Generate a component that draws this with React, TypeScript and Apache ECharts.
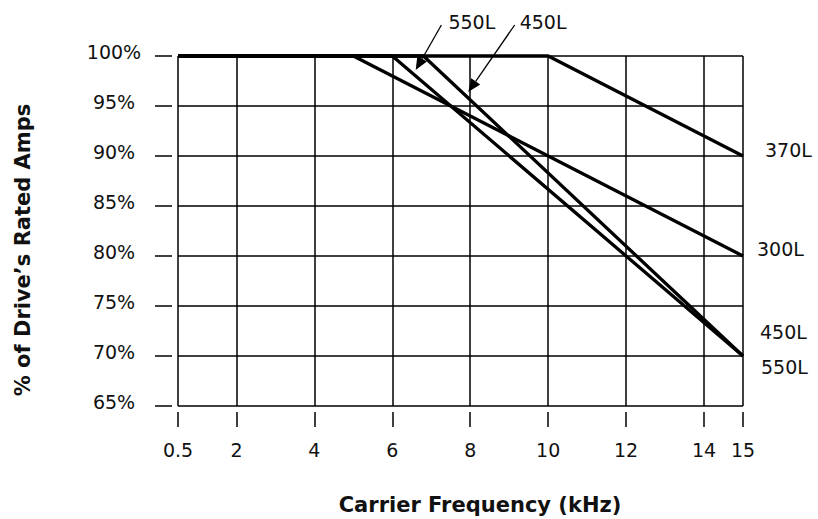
import React, { useEffect, useRef } from 'react';
import * as echarts from 'echarts';

// ---- data ----
const xTickValues = [0.5, 2, 4, 6, 8, 10, 12, 14, 15];
const seriesNames = ['370L', '300L', '450L', '550L'];
const freq370 = [0.5, 10, 15];
const amps370 = [100, 100, 90];
const freq300 = [0.5, 5, 15];
const amps300 = [100, 100, 80];
const freq450 = [0.5, 6.8, 15];
const amps450 = [100, 100, 70];
const freq550 = [0.5, 6, 15];
const amps550 = [100, 100, 70];

// callout arrows (data space): label, tail, tip
const calloutNames = ['550L', '450L'];
const calloutLabelAt = [[8.04, 103.4], [9.87, 103.4]];
const calloutTailAt = [[7.26, 103.1], [9.14, 103.1]];
const calloutTipAt = [[6.6, 98.6], [7.95, 96.4]];

const xTitle = 'Carrier Frequency (kHz)';
const yTitle = '% of Drive\u2019s Rated Amps';

// ---- styling (pixel offsets of end labels) ----
const endLabelOffset: Record<string, [number, number]> = {
  '370L': [22, -6.5],
  '300L': [14, -7],
  '450L': [17, -24.5],
  '550L': [18, 10.5],
};

const FONT = 'DejaVu Sans';
const TEXT = '#111';

export default function App() {
  const ref = useRef<HTMLDivElement>(null);
  useEffect(() => {
    document.body.style.margin = '0';
    const chart = echarts.init(ref.current!, null, { renderer: 'svg' });
    const sets = [
      [freq370, amps370],
      [freq300, amps300],
      [freq450, amps450],
      [freq550, amps550],
    ];
    const series = seriesNames.map((name, i) => ({
      type: 'line',
      name,
      data: sets[i][0].map((x, j) => [x, sets[i][1][j]]),
      showSymbol: false,
      symbol: 'none',
      clip: false,
      z: 5,
      lineStyle: { color: '#000', width: 3.3 },
    }));
    const gridLine = { color: '#000', width: 1.5 };
    chart.setOption({
      animation: false,
      grid: { left: 178, right: 75, top: 56, bottom: 113 },
      xAxis: {
        type: 'value',
        min: 0.5,
        max: 15,
        offset: 6,
        axisLine: { show: false },
        axisTick: { show: true, customValues: xTickValues, length: 15, lineStyle: gridLine },
        axisLabel: {
          customValues: xTickValues,
          margin: 28,
          fontFamily: FONT,
          fontSize: 19,
          color: TEXT,
          formatter: (v: number) => String(v),
        },
        splitLine: { show: true, lineStyle: gridLine },
      },
      yAxis: {
        type: 'value',
        min: 65,
        max: 100,
        interval: 5,
        offset: 6,
        axisLine: { show: false },
        axisTick: { show: true, length: 17, lineStyle: gridLine },
        axisLabel: {
          formatter: '{value}%',
          align: 'center',
          verticalAlign: 'bottom',
          lineHeight: 9,
          margin: 58,
          fontFamily: FONT,
          fontSize: 19,
          color: TEXT,
        },
        splitLine: { show: true, lineStyle: gridLine },
      },
      series,
    });

    const px = (p: number[]) => chart.convertToPixel({ gridIndex: 0 }, p) as number[];
    const graphics: any[] = [];
    // end labels
    seriesNames.forEach((name, i) => {
      const xs = sets[i][0];
      const ys = sets[i][1];
      const end = px([xs[xs.length - 1], ys[ys.length - 1]]);
      const off = endLabelOffset[name];
      graphics.push({
        type: 'text',
        x: end[0] + off[0],
        y: end[1] + off[1],
        style: { text: name, fontFamily: FONT, fontSize: 19, fill: TEXT, align: 'left', verticalAlign: 'middle' },
      });
    });
    // callouts
    calloutNames.forEach((name, i) => {
      const lab = px(calloutLabelAt[i]);
      const tail = px(calloutTailAt[i]);
      const tip = px(calloutTipAt[i]);
      const dx = tip[0] - tail[0];
      const dy = tip[1] - tail[1];
      const len = Math.hypot(dx, dy);
      const ux = dx / len;
      const uy = dy / len;
      const headLen = 13;
      const headW = 5.5;
      const bx = tip[0] - ux * headLen;
      const by = tip[1] - uy * headLen;
      graphics.push({
        type: 'line',
        shape: { x1: tail[0], y1: tail[1], x2: bx, y2: by },
        style: { stroke: '#000', lineWidth: 1.3 },
      });
      graphics.push({
        type: 'polygon',
        shape: {
          points: [
            [tip[0], tip[1]],
            [bx - uy * headW, by + ux * headW],
            [bx + uy * headW, by - ux * headW],
          ],
        },
        style: { fill: '#000' },
      });
      graphics.push({
        type: 'text',
        x: lab[0],
        y: lab[1],
        style: { text: name, fontFamily: FONT, fontSize: 19, fill: TEXT, align: 'center', verticalAlign: 'middle' },
      });
    });
    // axis titles
    graphics.push({
      type: 'text',
      x: 480,
      y: 505,
      style: { text: xTitle, fontFamily: FONT, fontWeight: 'bold', fontSize: 21, fill: TEXT, align: 'center', verticalAlign: 'middle' },
    });
    graphics.push({
      type: 'text',
      x: 23,
      y: 250,
      rotation: Math.PI / 2,
      style: { text: yTitle, fontFamily: FONT, fontWeight: 'bold', fontSize: 21, fill: TEXT, align: 'center', verticalAlign: 'middle' },
    });
    chart.setOption({ graphic: graphics });
    return () => chart.dispose();
  }, []);
  return <div ref={ref} style={{ width: 818, height: 519 }} />;
}
